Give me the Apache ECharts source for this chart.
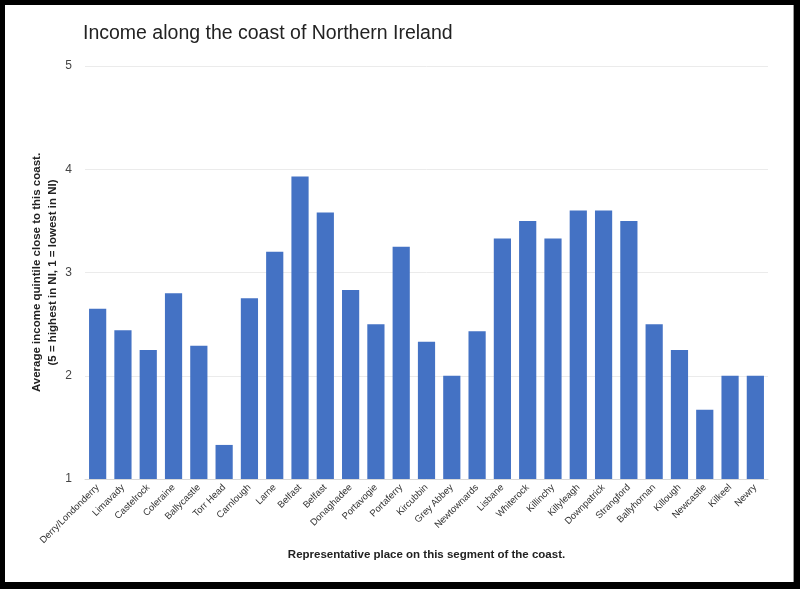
<!DOCTYPE html>
<html>
<head>
<meta charset="utf-8">
<script src="https://cdn.jsdelivr.net/npm/echarts@6/dist/echarts.min.js"></script>
<style>
  html, body { margin: 0; padding: 0; background: #000; width: 800px; height: 589px; overflow: hidden; }
  #chart {
    position: absolute; left: 5px; top: 5px;
    width: 788px; height: 577px;
    background: #fff;
    border-right: 1px solid #9a9a9a;
  }
</style>
</head>
<body>
<div id="chart"></div>
<script>
// coastal segments, north-west round to the south-east
const places = [
  "Derry/Londonderry", "Limavady", "Castelrock", "Coleraine", "Ballycastle",
  "Torr Head", "Carnlough", "Larne", "Belfast", "Belfast", "Donaghadee",
  "Portavogie", "Portaferry", "Kircubbin", "Grey Abbey", "Newtownards",
  "Lisbane", "Whiterock", "Killinchy", "Killyleagh", "Downpatrick",
  "Strangford", "Ballyhornan", "Killough", "Newcastle", "Kilkeel", "Newry"
];
const quintile = [
  2.65, 2.44, 2.25, 2.80, 2.29,
  1.33, 2.75, 3.20, 3.93, 3.58, 2.83,
  2.50, 3.25, 2.33, 2.00, 2.43,
  3.33, 3.50, 3.33, 3.60, 3.60,
  3.50, 2.50, 2.25, 1.67, 2.00, 2.00
];
const yTicks = { min: 1, max: 5, interval: 1 };

const barColor = "#4472c4";
const textDark = "#222222";
const labelGrey = "#444444";
const gridGrey = "#ebebeb";

const chart = echarts.init(document.getElementById("chart"), null, { renderer: "canvas" });

const option = {
  backgroundColor: "#ffffff",
  textStyle: { fontFamily: "Liberation Sans, Arial, sans-serif" },
  title: {
    text: "Income along the coast of Northern Ireland",
    left: 73,
    top: 14,
    textStyle: { fontSize: 19.5, fontWeight: "normal", color: textDark }
  },
  grid: { left: 80, right: 25, top: 61, bottom: 103 },
  xAxis: {
    type: "category",
    data: places,
    name: "Representative place on this segment of the coast.",
    nameLocation: "middle",
    nameGap: 70,
    nameMoveOverlap: false,
    nameTextStyle: { fontSize: 11.5, fontWeight: "bold", color: textDark },
    axisTick: { show: false },
    axisLine: { show: true, lineStyle: { color: "#d9d9d9" } },
    axisLabel: {
      interval: 0,
      rotate: 45,
      fontSize: 9.5,
      margin: 7,
      color: "#333333"
    }
  },
  yAxis: {
    type: "value",
    min: yTicks.min,
    max: yTicks.max,
    interval: yTicks.interval,
    name: "Average income quintile close to this coast.\n(5 = highest in NI, 1 = lowest in NI)",
    nameLocation: "middle",
    nameGap: 24,
    nameMoveOverlap: false,
    nameTextStyle: { fontSize: 11.5, fontWeight: "bold", color: textDark, lineHeight: 16 },
    axisLine: { show: false },
    axisTick: { show: false },
    axisLabel: { fontSize: 12, color: labelGrey, margin: 13 },
    splitLine: { show: true, lineStyle: { color: gridGrey } }
  },
  series: [
    {
      type: "bar",
      data: quintile,
      barCategoryGap: "32%",
      itemStyle: { color: barColor },
      silent: true
    }
  ]
};

chart.setOption(option);
</script>
</body>
</html>
